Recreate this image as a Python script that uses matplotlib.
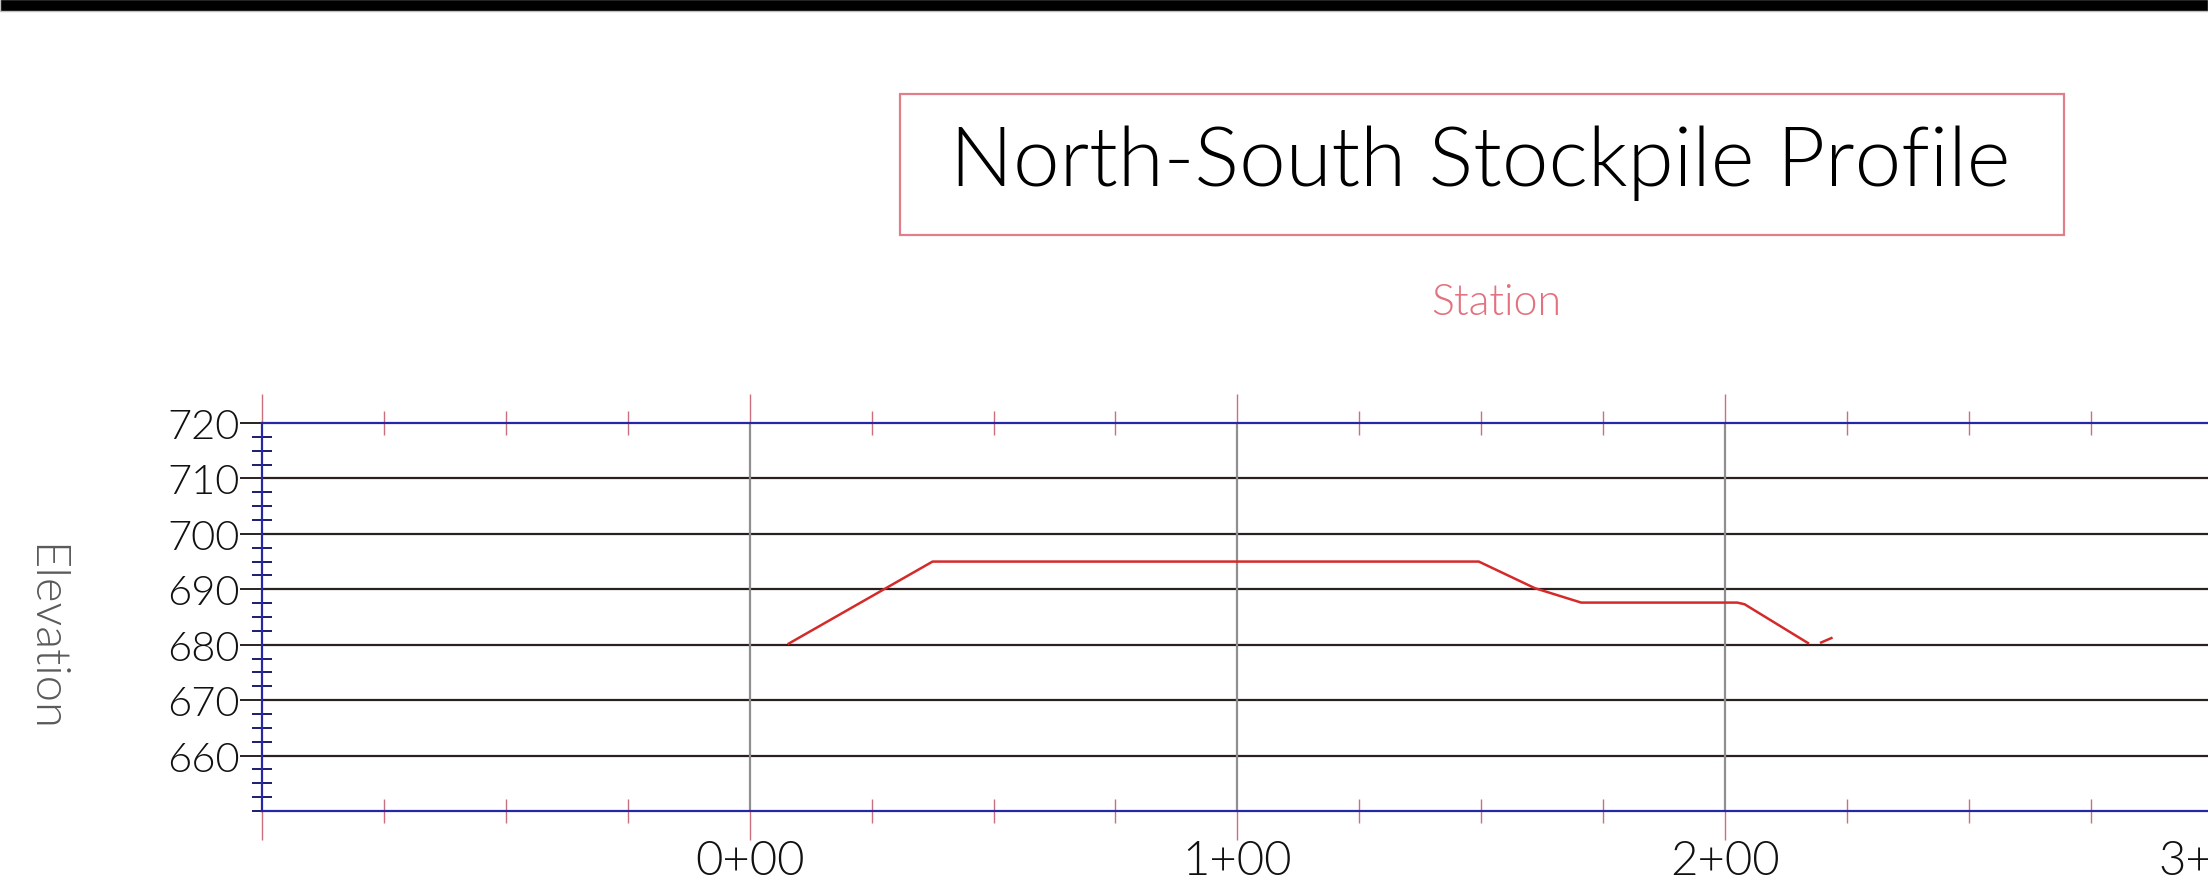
import matplotlib
matplotlib.use("Agg")
import matplotlib.pyplot as plt
from matplotlib.patches import Rectangle
from matplotlib.ticker import MultipleLocator, FuncFormatter

# profile data (station in ft, elevation in ft)
station = [8, 37.5, 149.5, 161, 170.5, 202.5, 204, 217]
elevation = [680.2, 695, 695, 690.2, 687.6, 687.6, 687.3, 680.3]
# short stub left after the end of the profile
stub_station = [219.7, 221.8]
stub_elevation = [680.4, 681.2]

elev_ticks = [660, 670, 680, 690, 700, 710, 720]
station_ticks = [-100, 0, 100, 200, 300]

title = "North-South Stockpile Profile"
xlabel = "Station"
ylabel = "Elevation"

fonts = ['Lato', 'DejaVu Sans']
thin = 300
blue = '#2626a6'
red_tick = '#c9707c'
grid_dark = '#2b2020'

fig = plt.figure(figsize=(22.08, 8.87), dpi=100)

# black strip across the top
fig.patches.append(Rectangle((0, 1 - 12 / 887), 1, 12 / 887, transform=fig.transFigure,
                             facecolor='black', edgecolor='#c0c0c0', lw=1))

# title box
fig.patches.append(Rectangle((900 / 2208, 1 - 236 / 887), 1164 / 2208, 141 / 887,
                             transform=fig.transFigure, facecolor='none',
                             edgecolor='#e07f8a', lw=1.6))
fig.text(1480 / 2208, 1 - 186 / 887, title, ha='center', va='baseline',
         fontsize=60, family=fonts, fontweight=thin, color='black')

fig.text(1496 / 2208, 1 - 315 / 887, xlabel, ha='center', va='baseline',
         fontsize=31, family=fonts, fontweight=thin, color='#e3717e')

fig.text(44 / 2208, 1 - 638 / 887, ylabel, ha='center', va='center', rotation=270,
         fontsize=34, family=fonts, fontweight=thin, color='#5a5a5a')

# axes run past the right edge of the picture, like the cut-off drawing
ax = fig.add_axes([262 / 2208, 1 - 812 / 887, 2536 / 2208, 388 / 887])
ax.set_xlim(-100, 420)
ax.set_ylim(650, 720)

for s in ['top', 'bottom', 'left']:
    ax.spines[s].set_color(blue)
    ax.spines[s].set_linewidth(1.6)
ax.spines['right'].set_visible(False)

# horizontal grid at every 10 ft
for e in elev_ticks[:-1]:
    ax.axhline(e, color=grid_dark, lw=1.6, zorder=1)
# vertical grid at every 100 ft of station
for s in station_ticks[1:]:
    ax.axvline(s, color='#8f8f8f', lw=1.6, zorder=1)

ax.plot(station, elevation, color='#d42a2a', lw=1.8, zorder=3)
ax.plot(stub_station, stub_elevation, color='#d42a2a', lw=1.8, zorder=3)

# y ticks
ax.set_yticks(elev_ticks)
ax.yaxis.set_minor_locator(MultipleLocator(2.5))
ax.tick_params(axis='y', which='major', direction='out', length=16, width=1.4,
               color=grid_dark, pad=0, labelsize=30, labelcolor='#111111')
ax.tick_params(axis='y', which='minor', direction='inout', length=15, width=1.4,
               color='#1c1c70')

# x ticks on top and bottom
ax.set_xticks(station_ticks)
ax.xaxis.set_minor_locator(MultipleLocator(25))
ax.xaxis.set_major_formatter(FuncFormatter(
    lambda v, p: f"{int(v // 100)}+{int(v % 100):02d}" if v >= 0 else ""))
ax.tick_params(axis='x', which='major', direction='out', length=21, width=1,
               color=red_tick, top=True, bottom=True, pad=0, labelsize=34,
               labelcolor='#111111')
ax.tick_params(axis='x', which='minor', direction='inout', length=17, width=1,
               color=red_tick, top=True, bottom=True)

for lab in ax.get_xticklabels() + ax.get_yticklabels():
    lab.set_family(fonts)
    lab.set_fontweight(thin)

fig.savefig('out.png', dpi=100)
